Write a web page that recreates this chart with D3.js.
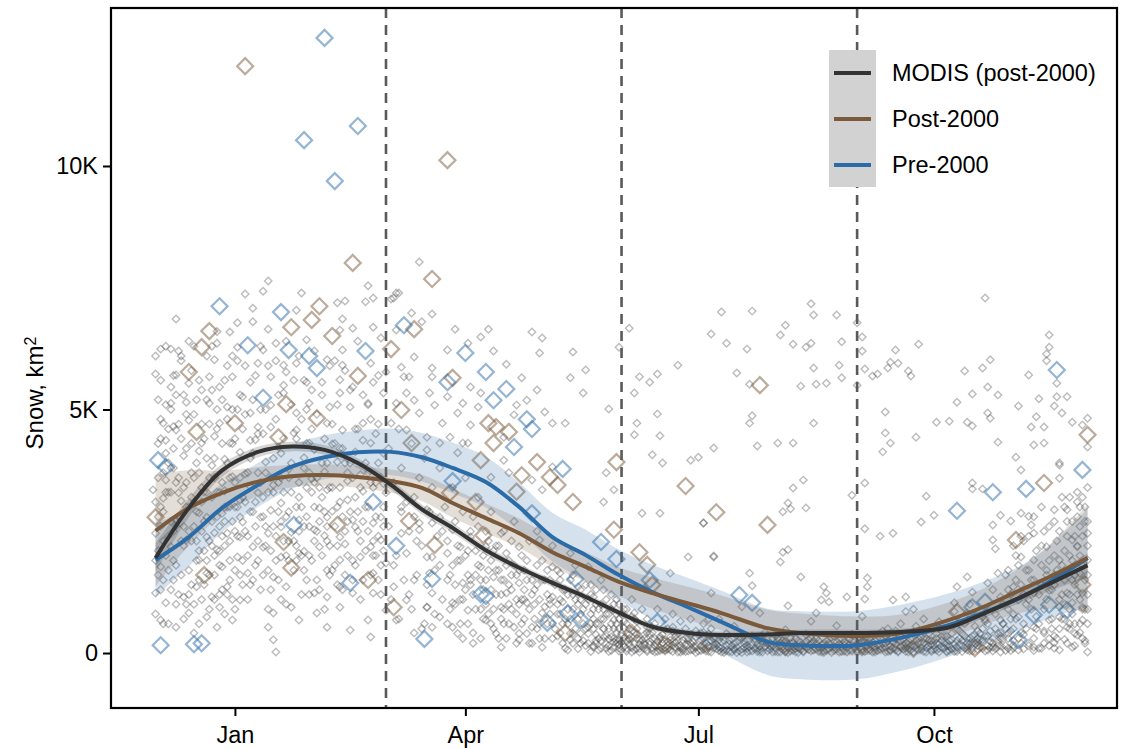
<!DOCTYPE html>
<html>
<head>
<meta charset="utf-8">
<script src="https://cdn.jsdelivr.net/npm/d3@7"></script>
<style>
  body { margin: 0; background: #fff; }
  text { font-family: "Liberation Sans", Arial, Helvetica, sans-serif; }
</style>
</head>
<body>
<div id="chart"></div>
<script>
// ---- data (x = days after 1 Jan, y = snow area in km2) ----

// fitted smooths, sampled along the year
const smoothDays = [-31, -18, -5, 9, 22, 35, 48, 61, 73, 85, 98, 111, 124, 137, 150, 163, 177, 190, 208, 221, 243, 260, 279, 292, 305, 318, 333];
const modisFit = [1950, 2980, 3750, 4130, 4240, 4170, 3900, 3450, 2950, 2570, 2110, 1750, 1440, 1150, 830, 540, 410, 370, 380, 410, 410, 430, 530, 800, 1100, 1420, 1800];
const modisSe  = [300, 200, 130, 110, 100, 100, 100, 100, 100, 100, 90, 80, 80, 70, 70, 70, 70, 70, 70, 70, 70, 70, 80, 90, 110, 150, 250];
const postFit  = [2510, 2980, 3290, 3520, 3630, 3655, 3615, 3530, 3390, 3080, 2770, 2460, 2070, 1770, 1460, 1230, 1020, 820, 510, 410, 350, 410, 680, 940, 1250, 1560, 1950];
const postSe   = [1150, 780, 450, 300, 230, 220, 220, 240, 270, 300, 300, 300, 300, 300, 300, 320, 340, 360, 380, 400, 400, 380, 360, 380, 450, 650, 1100];
const preFit   = [1910, 2380, 2980, 3450, 3820, 4020, 4120, 4130, 4020, 3800, 3510, 3000, 2380, 2010, 1600, 1250, 940, 640, 230, 160, 160, 310, 575, 820, 1090, 1460, 1950];
const preSe    = [750, 600, 500, 450, 450, 450, 450, 480, 500, 520, 520, 500, 500, 520, 520, 560, 600, 640, 680, 700, 700, 680, 650, 640, 650, 750, 1000];

// individual observations, pre-2000 and post-2000
const preObs = [[-30,3960],[-27,3820],[-29,160],[-16,180],[-13,200],[-6,7120],[5,6320],[11,5240],[18,7000],[21,6220],[29,6100],[32,5850],[51,6200],[66,6730],[23,2630],[45,1440],[54,3100],[63,2200],[77,1520],[74,290],[35,12630],[27,10530],[48,10820],[39,9690],[90,6160],[83,5560],[98,5770],[106,5420],[101,5190],[114,4800],[116,4600],[109,4230],[128,3780],[85,3530],[116,2870],[143,2280],[149,1930],[98,1170],[96,1210],[133,1520],[122,620],[130,820],[135,680],[162,1500],[165,640],[197,1190],[202,1030],[282,2920],[296,3300],[309,3370],[331,3760],[293,1050],[318,990],[325,880],[306,270],[312,780],[288,940],[321,5810]];
const postObs = [[4,12050],[83,10120],[46,8010],[33,7120],[30,6840],[22,6690],[-10,6610],[-13,6280],[38,6510],[-18,5770],[48,5690],[61,6240],[20,5110],[32,4820],[0,4720],[-15,4540],[17,4430],[65,4990],[77,7680],[70,6650],[85,5650],[99,4720],[102,4640],[107,4540],[101,4310],[69,4310],[96,3960],[118,3920],[112,3650],[123,3610],[126,3450],[132,3100],[110,3310],[149,3920],[176,3430],[188,2890],[148,2530],[158,2070],[161,1810],[163,1400],[94,3100],[97,2420],[78,2220],[84,3290],[129,410],[155,410],[168,160],[-31,2790],[-12,1600],[19,2280],[22,1750],[40,2630],[52,1500],[62,940],[68,2710],[205,5500],[333,4480],[208,2630],[305,2320],[316,3490],[282,840],[289,100],[331,1400],[185,200],[215,120],[245,150],[265,90]];

// MODIS daily values, grouped by season
const modisDecFeb = [[-23,6860],[-31,6100],[-29,6240],[-31,5730],[-25,6240],[-21,6100],[-16,6300],[-23,5710],[-8,6020],[-10,5670],[4,7370],[11,7430],[13,7640],[26,7390],[40,7190],[43,7230],[52,7540],[51,7210],[54,7290],[7,7080],[24,7040],[1,6780],[7,6800],[13,6650],[-2,6590],[42,6860],[41,6630],[46,6670],[54,6690],[57,6470],[-7,6360],[1,6280],[11,6220],[16,6360],[28,6430],[42,6220],[9,5950],[19,5910],[24,5950],[36,6020],[42,5910],[53,5950],[59,5770],[-25,5460],[-18,5540],[-13,5400],[-6,5460],[-1,5670],[6,5560],[14,5670],[20,5770],[28,5560],[34,5560],[41,5610],[46,5460],[54,5560],[-25,5130],[-19,5150],[-10,5130],[-3,5050],[3,5260],[6,4930],[14,5090],[19,5340],[24,4930],[29,5130],[37,5050],[41,5340],[45,5050],[52,5130],[58,5340],[-28,4720],[-23,4580],[-18,4780],[-6,4720],[9,4640],[14,4640],[24,4580],[36,4720],[42,4580],[50,4720],[-27,4370],[-13,4310],[-2,4310],[6,4370],[29,4310],[50,4370],
  [-32,3350],[-27,3550],[-22,3290],[-29,3000],[-23,2730],[-31,2460],[-25,2180],[-19,2320],[-29,1770],[-24,1500],[-31,1230],[-27,1030],[-20,1150],[-29,680],[-23,530],[-18,820],[-16,410],[-11,740],[-9,1150],[-6,940],[-3,1360],[2,1090],[-1,680],[-7,530],[-15,1360],[-11,1640],[-5,1770],[-14,1910],[-7,2120],[1,1970],[5,1640],[7,2180],[2,2380],[-3,2460],[-11,2380],[13,2460],[18,2590],[10,2790],[2,2790],[-5,2870],[-11,2790],[2,3140],[9,3290],[18,3080],[25,3200],[31,3000],[36,2790],[25,2730],[31,2530],[33,2180],[41,2380],[46,2730],[54,2670],[52,3000],[44,3140],[36,3350],[59,3290],[57,2320],[59,1850],[54,1640],[49,1970],[41,1910],[36,1700],[28,1500],[25,2050],[18,1970],[15,1560],[20,1360],[31,1230],[36,1150],[41,940],[46,1230],[54,1230],[59,880],[52,680],[45,470],[53,330],[15,820],[13,530],[22,940],[25,680],[36,530],[15,270],[16,20],[32,820],[41,1360],
  [-30,4300],[-26,3900],[-24,4650],[-20,4050],[-17,3700],[-14,4150],[-9,3850],[-8,4450],[-4,3980],[-1,3620],[2,4120],[4,3680],[8,4380],[12,3920],[15,3450],[17,4230],[21,3780],[23,4520],[27,4010],[30,3580],[31,4180],[35,3720],[38,4290],[40,3920],[44,3530],[47,4130],[49,3660],[53,4310],[56,3900],[58,3480],[-28,3180],[-23,2610],[-21,3120],[-14,2880],[-8,2470],[-4,3330],[3,2690],[6,3420],[11,2170],[14,2930],[19,3300],[22,2480],[27,2090],[33,2980],[35,2410],[38,2910],[43,2240],[47,2590],[50,3320],[53,2180],[57,2790],
  [-31,800],[-30,2100],[-30,3600],[-29,4800],[-29,5600],[-28,1500],[-28,2900],[-27,4100],[-27,6300],[-26,600],[-26,2400],[-25,3300],[-25,5000],[-24,1900],[-24,3800],[-23,5300],[-22,1200],[-22,2800],[-21,4400],[-21,6000],[-20,700],[-20,2200],[-19,3500],[-19,4900],[-18,1700],[-18,3000],[-17,4300],[-17,5800],[-16,1000],[-16,2600],[-15,3900],[-15,5200],[-14,600],[-14,2100],[-13,3400],[-13,4700],[-12,1400],[-12,2700],[-11,4000],[-11,6100],[-10,900],[-10,2300],[-9,3200],[-9,5400],[-8,1600],[-8,3600],[-7,4600],[-7,6600],[-6,1200],[-6,2600],[-5,3500],[-5,5200],[-4,800],[-4,2200],[-3,3900],[-3,4800],[-2,1500],[-2,3000],[-1,4300],[-1,6100],[0,900],[0,2500],[0,3500],[1,5000],[2,1600],[3,3200],[3,4600],[4,5900],[5,1100],[5,2400],[6,4000],[7,5200],[8,1800],[8,3100],[9,4500],[10,6300],[10,1300],[11,2800],[12,3700],[12,5000],[13,900],[14,2100],[15,3300],[16,4800],[16,6000],[17,1500],[18,2700],[18,4100],[19,5500],[20,1000],[21,2300],[21,3600],[22,5100],[23,1700],[24,3000],[24,4400],[25,6100],[26,1200],[27,2600],[27,3800],[28,5000],[29,2000],[30,3300],[30,4600],[31,6200],[32,1500],[33,2700],[34,3900],[34,5300],[35,900],[36,2300],[37,3400],[38,4700],[39,1800],[39,6000],[40,3000],[41,4200],[42,1300],[43,2500],[44,3700],[45,5400],[46,1900],[47,3200],[48,4600],[48,6400],[49,1100],[50,2700],[51,3900],[52,5100],[53,1600],[54,3400],[55,4500],[55,2000],[56,5700],[57,1200],[58,3000],[58,4100],
  [-31,3100],[-30,1600],[-30,5200],[-29,2600],[-29,4400],[-28,3700],[-28,600],[-27,2000],[-27,5100],[-26,3300],[-26,4600],[-25,1300],[-25,2700],[-24,4200],[-24,5700],[-23,1800],[-23,3500],[-22,4700],[-22,6200],[-21,2300],[-20,3400],[-20,5300],[-19,1000],[-19,4200],[-18,2500],[-18,6400],[-17,1400],[-17,3200],[-16,3600],[-16,4900],[-15,1900],[-15,2900],[-14,3700],[-14,5600],[-13,1100],[-13,2500],[-12,3300],[-12,4400],[-11,1900],[-11,5200],[-10,3600],[-10,4700],[-9,2200],[-9,6300],[-8,1100],[-8,4000],[-7,2800],[-7,5000],[-6,3300],[-6,1800],[-5,4300],[-5,2400],[-4,5600],[-4,3000],[-3,1200],[-3,5900],[-2,3600],[-2,2300],[-1,1100],[-1,5000],[0,4400],[0,1700],[1,3000],[1,6000],[2,5300],[3,1900],[4,2500],[4,4900],[5,3700],[6,1400],[7,2900],[7,4100],[8,5700],[9,2300],[9,3700],[10,5000],[11,1600],[11,4500],[12,2600],[13,3300],[13,5900],[14,1300],[15,4000],[16,2400],[17,3500],[17,5300],[18,1100],[19,4400],[20,2800],[20,6400],[21,1900],[22,3900],[23,5600],[24,2200],[25,3500],[26,4800],[26,2000],[27,5600],[28,2800],[28,4300],[29,1200],[29,3700],[30,5400],[31,2300],[32,3600],[32,4900],[33,1300],[34,3200],[35,4400],[36,2600],[37,5900],[37,1600],[38,3400],[39,4300],[40,2200],[40,5100],[41,3100],[42,4200],[43,1600],[43,5800],[44,2700],[45,3900],[46,1500],[47,4600],[48,2500],[49,3400],[50,5300],[51,2100],[52,3700],[53,4800],[54,2300],[55,3500],[56,1500],[56,4700],[57,3600],[58,2100],
  [-31,1900],[-30,2800],[-29,1300],[-28,2300],[-27,3300],[-26,1700],[-25,3800],[-24,2500],[-23,1000],[-22,3600],[-21,1600],[-20,2600],[-19,3000],[-18,1200],[-17,2300],[-16,3100],[-15,2300],[-14,1500],[-13,3100],[-12,2100],[-11,3300],[-10,1600],[-9,2700],[-8,2000],[-7,3300],[-6,2100],[-5,1300],[-4,2700],[-3,3000],[-2,1900],[-1,2700],[0,3000],[1,2400],[2,3600],[3,1400],[4,3100],[5,2000],[6,2900],[7,1500],[8,2600],[9,1900],[10,3500],[11,3200],[12,2200],[13,1700],[14,3600],[15,2600],[16,1900],[17,2900],[18,3600],[19,2300],[20,2000],[21,2900],[22,3300],[23,2300],[24,1900],[25,2500],[26,3000],[27,1700],[28,3400],[29,2600],[30,1900],[31,3500],[32,2500],[33,3400],[34,2000],[35,2900],[36,3900],[37,2200],[38,1700],[39,2600],[40,1400],[41,3400],[42,2800],[43,3900],[44,2000],[45,2900],[46,3600],[47,1800],[48,2900],[49,2300],[50,1500],[51,3000],[52,2500],[53,3500],[54,2000],[55,2800],[56,2400],[57,1800],[58,2600]];

const modisMarMay = [[63,7390],[61,7270],[63,6630],[66,5670],[63,5130],[61,4720],[67,4580],
  [65,3000],[70,3200],[75,2940],[72,2530],[77,2670],[65,2460],[67,2050],[75,1970],[62,1360],[70,1500],[76,1640],[67,1090],[75,940],[63,680],[70,410],[77,530],
  [72,8030],[64,7390],[62,7290],[69,6980],[77,6960],[73,6800],[86,6650],[96,6490],[99,6650],[91,6360],[83,6220],[119,6160],[116,6590],[120,6470],[132,6180],[137,5810],[131,5650],[106,5930],[101,6200],[112,5650],[118,5400],[124,4720],[129,4720],[121,4950],[136,5340],[146,5010],[150,6280],[154,6670],[77,5850],[70,6080],[65,5870],[68,5670],[77,5670],[92,5460],[96,5340],[76,5340],[67,5340],[83,5260],[89,5130],[95,5050],[78,5090],[70,5190],[72,4930],[81,4720],[87,4930],[92,4680],[110,5090],[109,4890],[114,5190],[105,4430],[84,4430],[89,4310],[75,4430],
  [75,4170],[80,4310],[87,4110],[91,4310],[100,3610],[105,3960],[107,3700],[116,3550],[120,3350],[124,3820],[145,3700],[148,3350],[144,3100],[72,2670],[80,2790],[85,2530],[77,1970],[83,2050],[88,2180],[92,2380],[98,2180],[104,2460],[106,2050],[111,2180],[119,2320],[96,1770],[101,1560],[89,1440],[83,1500],[77,1230],[85,1030],[91,880],[80,740],[75,940],[85,530],[93,410],[98,680],[104,940],[106,1230],[111,1440],[114,1030],[109,530],[104,120],[111,270],[116,530],[120,820],[124,1150],[127,410],[120,120],[131,270],[138,530],[140,120],[144,330],[148,680],[150,270],[127,1640],[134,1360],[140,1150],[124,1770],[131,2050],[138,1770],
  [62,1800],[65,2900],[68,1200],[71,2300],[74,600],[78,1700],[81,2500],[84,900],[87,1900],[89,300],[92,1400],[95,2600],[97,700],[100,1900],[102,400],[105,1500],[108,2300],[110,800],[113,1300],[115,200],[118,1800],[121,950],[123,1500],[126,350],[128,1050],[132,1600],[134,700],[136,250],[139,1400],[141,600],[144,900],[146,150],[149,1100],
  [60,2600],[60,4200],[61,1100],[62,3500],[63,2000],[64,4600],[64,700],[65,3800],[66,1500],[67,3100],[68,2500],[69,4300],[69,900],[70,2800],[71,1600],[72,3600],[73,500],[73,2200],[74,4000],[75,1400],[76,2900],[77,3400],[78,800],[79,2400],[80,1800],[80,3800],[81,1100],[82,3000],[83,600],[83,2300],[84,1600],[85,3400],[86,1000],[86,2700],[87,400],[88,1900],[89,2900],[89,1100],[90,3600],[91,600],[91,2100],[92,1500],[93,2800],[94,900],[95,1800],[95,3200],[96,300],[97,1300],[98,2500],[99,800],[99,1700],[100,2900],[101,500],[102,1200],[102,2200],[103,1700],[104,700],[105,2500],[106,300],[107,1400],[107,1900],[108,900],[109,2700],[110,1600],[111,400],[112,1100],[112,2000],[113,700],[114,1500],[115,2300],[116,200],[117,1000],[118,1400],[119,600],[120,1900],[121,300],[122,1200],[123,800],[124,2200],[125,500],[126,1000],[127,1500],[128,200],[129,700],[130,1200],[131,400],[132,900],[133,1800],[134,300],[135,1100],[136,600],[137,1400],[138,200],[139,800],[140,500],[141,1000],[142,300],[143,700],[144,1300],[145,100],[146,500],[147,900],[148,300],[149,600],[150,100],[150,1000],
  [88,600],[90,1300],[93,200],[94,1600],[96,900],[98,1500],[100,600],[101,2100],[103,300],[104,1500],[105,900],[107,600],[108,1600],[110,200],[111,1000],[113,1700],[114,400],[116,1200],[117,700],[118,2500],[119,300],[121,1500],[122,600],[123,1000],[124,300],[126,1700],[127,800],[128,1300],[129,100],[130,600],[131,1500],[132,400],[133,1100],[135,200],[135,800],[137,1000],[138,400],[139,1200],[140,700],[141,200],[142,900],[143,1500],[144,500],[145,800],[146,300],[147,1200],[148,500],[149,200],[150,700],
  [85,1800],[86,1400],[87,2200],[88,1100],[90,2000],[91,1600],[92,2500],[93,1200],[94,2100],[96,1500],[97,2000],[98,1000],[99,2300],[100,1300],[101,900],[102,1700],[103,2200],[104,1200],[105,600],[106,1800],[107,1000],[108,1300],[109,1800],[110,1100],[111,1700],[112,600],[113,1100],[114,1900],[115,900],[116,1500],[117,1300],[118,500],[119,1100],[120,1500],[121,700],[122,1700],[123,1100],[124,600],[125,1400],[126,800],[127,1100],[128,600],[129,1300],[130,900],[131,700],[132,1200],[133,500],[134,1000],[135,1300],[136,900],[137,500],[138,1100],[139,600],[140,900],[141,1300],[142,600],[143,1000],[144,700],[145,1100],[146,800],[147,600],[148,1000],[149,800],[150,500]];

const modisJunAug = [[156,5340],[158,5670],[165,5730],[162,5560],[173,5910],[165,4910],[157,4720],[166,4460],[156,4480],
  [163,4070],[167,3900],[178,3960],[181,4020],[159,2870],[166,2870],[183,2670],[177,1970],[187,1970],[170,1640],[186,1230],[156,820],[161,530],[171,530],[182,410],
  [190,7000],[202,7020],[225,7170],[226,6940],[235,6940],[215,6730],[213,6530],[186,6550],[192,6360],[200,6240],[218,6340],[223,6280],[225,6360],[237,6390],[243,6780],[226,5850],[236,5910],[196,5750],[201,5520],[221,5480],[227,5520],[231,5540],[237,5650],[243,5500],[187,4210],[204,4250],[212,4310],[218,4310],[202,4870],[201,4720],[226,4720],
  [183,2670],[187,1990],[201,1640],[202,1380],[214,2900],[217,2960],[216,3080],[218,3390],[222,3550],[223,2980],[214,2070],[216,2120],[213,1870],[221,1560],[230,1360],[231,1230],[229,1090],[239,1150],[216,970],[227,820],[241,3240],
  [185,700],[195,550],[205,820],[215,480],[225,650],[235,560],[198,950],[232,1050],
  [151,400],[152,900],[153,600],[154,300],[155,1100],[156,700],[157,500],[159,900],[160,200],[161,700],[162,400],[164,600],[165,900],[166,300],[168,700],[169,500],[171,800],[173,400],[174,650],[176,500],[178,700],[180,450],[183,600],[186,500],[189,700],
  [151,800],[152,650],[153,900],[154,500],[155,750],[157,650]];

const modisSepNov = [[245,6490],[245,6200],[246,5830],[249,5690],[251,5730],[255,5850],[258,6220],[256,5970],[259,5950],[263,5790],[264,5690],[267,6340],[254,4950],[254,4520],[256,4310],[253,4130],[266,4430],[274,4740],[279,4760],[282,5150],[285,5790],[288,5320],[292,5850],[295,6020],[293,7290],[294,5460],[298,5300],[294,4930],[295,4820],[288,4660],[298,4330],[306,5070],[310,5710],[314,5220],[317,6140],[317,6000],[318,6530],[318,6280],[321,5540],[321,5260],[325,5260],[320,5070],[323,4930],[327,4740],[313,4850],[311,4640],[316,4640],[312,4270],[316,4310],[331,4680],[333,4820],[333,4230],[305,4020],[322,3900],[286,4740],
  [246,3490],[246,2550],[252,2400],[257,2460],[247,1540],[247,1360],[246,1110],[257,1090],[262,1150],[270,3220],[273,2830],[268,2690],[288,3490],[292,3370],[288,3370],[296,2630],[299,2830],[303,2710],[307,2870],[310,2810],[296,2320],[297,2140],[311,2630],[312,2460],[320,2940],[323,3200],[322,3590],[322,3860],[307,3760],[329,3100],[325,2940],[327,2320],[333,2460],[329,2180],[333,1910],[317,2180],[312,1910],[307,1970],[302,1700],[298,1640],[304,1360],[309,1700],[317,1700],[322,1910],[325,1640],[330,1640],[331,1230],[325,1230],[318,1290],[312,1230],[306,1090],[299,1150],[294,1440],[286,1560],[288,1250],[282,1360],[281,1030],[286,820],[292,740],[299,680],[306,740],[312,530],[318,680],[325,530],[331,680],[331,940],[333,20],[327,120],[320,210],[312,120],[304,160],[296,120],[288,100],[316,410],[329,370],[307,410],[299,410],[292,270],[322,740],[327,1030],
  [245,750],[255,500],[265,900],[275,640],[262,850],
  [246,300],[250,120],[253,450],[257,200],[260,600],[263,90],[266,380],[269,700],[272,250],[275,520],[278,150],[281,850],[284,400],[287,1000],[290,220],[293,650],[296,1300],[299,350],[302,900],[305,1500],[307,200],[310,1100],[313,750],[315,1800],[318,300],[320,1400],[322,950],[324,2100],[326,600],[328,1600],[330,2600],[331,300],[333,1200],[333,2200],[332,3000],[329,2800],[327,1900],[325,2400],[323,1200],[321,1700],
  [300,1000],[301,1600],[302,400],[303,1200],[304,800],[305,2000],[306,300],[307,1400],[308,600],[308,2300],[309,1000],[310,200],[311,1500],[312,2800],[313,500],[314,1200],[315,2200],[315,100],[316,900],[317,1600],[318,2600],[319,500],[319,1300],[320,2000],[321,300],[322,1100],[322,2500],[323,700],[324,1500],[324,3000],[325,200],[326,1200],[326,2000],[327,800],[327,2700],[328,400],[328,1400],[329,2200],[329,3300],[330,600],[330,1100],[331,1800],[331,2400],[332,200],[332,900],[332,1500],[333,600],[333,2700],[333,3400],[331,3200],[320,100],[316,200],[312,50],[308,80],[304,500],[298,200],[294,600],[290,450],[286,300],[282,500],[278,350],[274,400],[270,300],[266,550],[262,400],[258,450],[254,350],
  [300,600],[302,1300],[304,2200],[305,700],[306,1800],[307,2400],[308,1200],[309,500],[310,1700],[311,900],[312,1500],[313,2100],[314,600],[315,1400],[316,2500],[317,1100],[318,1900],[319,700],[320,1600],[321,2300],[322,500],[323,1800],[324,1000],[325,2700],[326,900],[327,1500],[328,2400],[329,1200],[330,2000],[331,900],[332,2700],[333,1600],[326,3200],[330,3000],[320,2700],[315,3000],[310,2400],[328,600],[333,900],[324,700]];

// the dense run of near-zero MODIS values from late spring to autumn
const modisNearZero = [[151,60],[152,310],[154,180],[156,420],[157,90],[159,260],[161,30],[162,500],[164,150],[166,340],[167,70],[169,230],[171,450],[172,110],[174,20],[176,300],[177,170],[179,60],[181,380],[183,130],[184,40],[186,250],[188,90],[190,330],[191,10],[193,180],[195,60],[197,270],[199,120],[200,20],[202,350],[204,90],[206,200],[208,40],[210,150],[212,300],[214,70],[216,10],[218,220],[220,110],[222,40],[224,280],[226,130],[228,30],[230,190],[232,80],[234,350],[236,20],[238,160],[240,60],[242,250],[244,110],[246,30],[248,190],[250,70],[252,300],[254,20],[256,140],[258,60],[260,240],[262,30],[264,160],[266,80],[268,330],[270,20],[272,180],[274,60],[276,260],[278,40],[280,400],[282,120],[284,30],[286,210],[288,350],[290,70],[292,500],[294,150],[296,40],
  [130,60],[132,200],[134,90],[135,400],[137,150],[139,30],[141,250],[143,100],[145,350],[147,50],[148,220],[149,420],
  [150,180],[151,350],[153,40],[153,240],[155,120],[155,450],[157,300],[158,20],[158,180],[160,90],[160,380],[162,230],[163,50],[163,420],[165,160],[165,30],[167,280],[168,110],[168,480],[170,60],[170,200],[172,340],[173,20],[173,150],[175,90],[175,260],[177,40],[178,200],[178,380],[180,120],[180,10],[182,260],[183,70],[183,420],[185,150],[185,30],[187,300],[188,180],[189,50],[190,100],[191,260],[192,400],[193,30],[194,140],[196,220],[196,10],[198,80],[198,320],[200,160],[201,40],[203,230],[203,100],[205,20],[205,300],[207,130],[207,420],[209,70],[209,210],[211,30],[211,360],[213,150],[213,20],[215,250],[215,90],[217,40],[217,310],[219,160],[219,20],[221,220],[221,70],[223,120],[223,380],[225,40],[225,200],[227,90],[227,300],[229,20],[229,170],[231,250],[231,60],[233,130],[233,10],[235,220],[235,80],[237,300],[237,30],[239,120],[239,200],[241,50],[241,380],[243,170],[243,20],[245,240],[245,80],[247,130],[247,330],[249,20],[249,220],[251,160],[251,50],[253,280],[253,100],[255,30],[255,380],[257,110],[257,230],[259,40],[259,300],[261,160],[261,80],[263,240],[263,20],[265,130],[265,420],[267,60],[267,200],[269,300],[269,30],[271,150],[271,400],[273,70],[273,250],[275,20],[275,180],[277,350],[277,100],[279,50],[279,250],[281,180],[281,30],[283,300],[283,450],[285,100],[285,600],[287,200],[287,40],[289,380],[289,550],[291,120],[291,280],[293,40],[293,700],[295,230],[295,450],[297,100],[297,800],[299,300],[299,20],[301,500],[301,150],[303,700],[303,50],
  [152,130],[154,380],[156,60],[158,280],[160,170],[161,420],[163,110],[164,300],[166,50],[167,200],[169,80],[170,330],[171,160],[173,260],[174,100],[176,30],[177,250],[179,140],[180,330],[182,50],[184,200],[185,390],[187,110],[189,270],[190,20],[192,150],[194,300],[195,90],[197,40],[199,240],[200,100],[202,170],[204,30],[205,140],[206,260],[208,110],[210,20],[211,200],[213,290],[214,130],[216,180],[218,50],[219,300],[220,10],[222,160],[224,70],[226,240],[228,120],[230,40],[232,280],[234,130],[236,180],[238,40],[240,280],[242,90],[244,200],[246,150],[248,60],[250,260],[252,140],[254,200],[256,40],[258,300],[260,120],[262,200],[264,60],[266,250],[268,110],[270,180],[272,60],[274,300],[276,120],[278,200],[280,80],[282,250],[284,150],[286,60],[288,200],[290,300],[292,100],[294,350],[296,200],[298,150],[300,300],[302,100],[304,250],[306,60],[308,380],[310,150],[312,300],[314,100],[316,450],[318,150],[320,350],[322,60],[324,280],[326,500],[328,150],[330,420],[332,250],
  [140,150],[141,380],[142,60],[143,250],[144,500],[145,180],[146,30],[147,330],[148,120],[149,260],[150,40],[151,220],[152,520],[153,100],[154,280],[155,20],[156,190],[157,380],[158,90],[159,150],[160,300],[161,60],[162,180],[163,280],[164,20],[165,240],[166,120],[167,380],[168,40],[169,160],[170,260],[171,30],[172,210],[173,330],[174,150],[175,40],[176,180],[177,310],[178,60],[179,220],[180,160],[181,40],[182,140],[183,300],[184,90],[185,230],[186,20],[187,160],[188,320],[189,120],[190,230],[191,60],[192,50],[193,260],[194,20],[195,180],[196,120],[197,330],[198,10],[199,190],[200,260],[201,120],[202,40],[203,300],[204,170],[205,70],[206,20],[207,240],[208,190],[209,140],[210,300],[211,100],[212,20],[213,210],[214,260],[215,30],[216,110],[217,200],[218,120],[219,80],[220,250],[221,160],[222,20],[223,230],[224,140],[225,300],[226,60],[227,190],[228,250],[229,100],[230,10],[231,150],[232,200],[233,320],[234,60],[235,140],[236,270],[237,120],[238,230],[239,20],[240,170],[241,250],[242,130],[243,60],[244,300],[245,20],[246,220],[247,70],[248,300],[249,160],[250,20],[251,280],[252,80],[253,190],[254,120],[255,250],[256,60],[257,330],[258,180],[259,20],[260,150],[261,290],[262,100],[263,180],[264,280],[265,20],[266,160],[267,300],[268,60],[269,200],[270,110],[271,260],[272,30],[273,160],[274,200],[275,90],[276,340],[277,200],[278,20],[279,150],[280,270],[281,90],[282,30],[283,180],[284,250],[285,350],[286,130],[287,300],[288,40],[289,200],[290,150],[291,400],[292,230],[293,350],[294,60],[295,120],[296,300],[297,500],[298,400],[299,150],[300,600],[301,50],[302,300],[303,450],[304,100]];

// meteorological season starts (1 Mar, 1 Jun, 1 Sep)
const seasonStartDays = [59, 151, 243];

const yTicks = [0, 5000, 10000];
const yTickLabels = ["0", "5K", "10K"];

const seriesNames = ["MODIS (post-2000)", "Post-2000", "Pre-2000"];
const seriesColors = ["#333333", "#7a5a3a", "#2b6ca8"];

// ---- chart ----
const width = 1127, height = 750;
const plot = {left: 111, right: 1117, top: 8, bottom: 708};
const fontSize = "23.5px";

const jan1 = Date.UTC(2001, 0, 1);
const toDate = d => new Date(jan1 + d * 864e5);

const x = d3.scaleUtc()
    .domain([toDate(-48.4), toDate(344.5)])
    .range([plot.left, plot.right]);
const y = d3.scaleLinear()
    .domain([-1129, 13244])
    .range([plot.bottom, plot.top]);

const svg = d3.select("#chart").append("svg")
    .attr("width", width)
    .attr("height", height)
    .style("background", "#fff");

svg.append("clipPath").attr("id", "clip")
    .append("rect")
    .attr("x", plot.left).attr("y", plot.top)
    .attr("width", plot.right - plot.left).attr("height", plot.bottom - plot.top);

const body = svg.append("g").attr("clip-path", "url(#clip)");

// open diamonds
const diamond = size => d3.symbol().type(d3.symbolSquare).size(size)();

function drawPoints(data, color, opacity, size, strokeW) {
    body.append("g").selectAll("path")
        .data(data)
        .enter().append("path")
        .attr("d", diamond(size))
        .attr("transform", d => `translate(${x(toDate(d[0]))},${y(d[1])}) rotate(45)`)
        .attr("fill", "none")
        .attr("stroke", color)
        .attr("stroke-opacity", opacity)
        .attr("stroke-width", strokeW);
}

const modisAll = modisDecFeb.concat(modisMarMay, modisJunAug, modisSepNov, modisNearZero);
drawPoints(modisAll, "#3c3c3c", 0.34, 28, 1.4);
drawPoints(postObs, seriesColors[1], 0.5, 128, 2.2);
drawPoints(preObs, seriesColors[2], 0.5, 128, 2.2);

// dashed season lines
body.append("g").selectAll("line")
    .data(seasonStartDays)
    .enter().append("line")
    .attr("x1", d => x(toDate(d))).attr("x2", d => x(toDate(d)))
    .attr("y1", plot.top).attr("y2", plot.bottom)
    .attr("stroke", "#5a5a5a")
    .attr("stroke-width", 2.6)
    .attr("stroke-dasharray", "10,7");

// smooth ribbons + lines
const fits = [
    {fit: modisFit, se: modisSe},
    {fit: postFit, se: postSe},
    {fit: preFit, se: preSe}
];

const area = d3.area()
    .x(d => x(toDate(d.day)))
    .y0(d => y(d.fit - d.se))
    .y1(d => y(d.fit + d.se))
    .curve(d3.curveCatmullRom.alpha(0.5));

const line = d3.line()
    .x(d => x(toDate(d.day)))
    .y(d => y(d.fit))
    .curve(d3.curveCatmullRom.alpha(0.5));

const fitRows = fits.map(f => smoothDays.map((day, i) => ({day: day, fit: f.fit[i], se: f.se[i]})));

// ribbons drawn pre, post, modis (back to front)
[2, 1, 0].forEach(i => {
    body.append("path")
        .datum(fitRows[i])
        .attr("d", area)
        .attr("fill", seriesColors[i])
        .attr("fill-opacity", 0.2);
});
[2, 1, 0].forEach(i => {
    body.append("path")
        .datum(fitRows[i])
        .attr("d", line)
        .attr("fill", "none")
        .attr("stroke", seriesColors[i])
        .attr("stroke-width", 4);
});

// axes
const xAxis = d3.axisBottom(x)
    .ticks(d3.utcMonth.every(3))
    .tickFormat(d3.utcFormat("%b"))
    .tickSize(8).tickSizeOuter(0).tickPadding(10);

svg.append("g")
    .attr("transform", `translate(0,${plot.bottom})`)
    .call(xAxis)
    .call(g => g.select(".domain").remove())
    .call(g => g.selectAll("line").attr("stroke", "#000").attr("stroke-width", 2))
    .call(g => g.selectAll("text").attr("fill", "#000").style("font-size", fontSize));

const yAxis = d3.axisLeft(y)
    .tickValues(yTicks)
    .tickFormat((d, i) => yTickLabels[i])
    .tickSize(8).tickSizeOuter(0).tickPadding(5);

svg.append("g")
    .attr("transform", `translate(${plot.left},0)`)
    .call(yAxis)
    .call(g => g.select(".domain").remove())
    .call(g => g.selectAll("line").attr("stroke", "#000").attr("stroke-width", 2))
    .call(g => g.selectAll("text").attr("fill", "#000").style("font-size", fontSize));

// panel border
svg.append("rect")
    .attr("x", plot.left).attr("y", plot.top)
    .attr("width", plot.right - plot.left).attr("height", plot.bottom - plot.top)
    .attr("fill", "none")
    .attr("stroke", "#000")
    .attr("stroke-width", 2.2);

// y title
const yTitle = svg.append("text")
    .attr("transform", `translate(43,393) rotate(-90)`)
    .attr("text-anchor", "middle")
    .style("font-size", "24px")
    .attr("fill", "#000");
yTitle.append("tspan").text("Snow, km");
yTitle.append("tspan").text("2").attr("dy", "-0.45em").style("font-size", "16px");

// legend
const legend = svg.append("g").attr("transform", "translate(829,50)");
legend.append("rect")
    .attr("width", 47).attr("height", 137)
    .attr("fill", "#d2d2d2");

const keys = legend.selectAll(".key")
    .data(seriesNames)
    .enter().append("g")
    .attr("class", "key")
    .attr("transform", (d, i) => `translate(0,${23 + i * 46})`);

keys.append("line")
    .attr("x1", 5).attr("x2", 42)
    .attr("stroke", (d, i) => seriesColors[i])
    .attr("stroke-width", 4);

keys.append("text")
    .attr("x", 63)
    .attr("dy", "0.36em")
    .style("font-size", fontSize)
    .attr("fill", "#000")
    .text(d => d);
</script>
</body>
</html>
